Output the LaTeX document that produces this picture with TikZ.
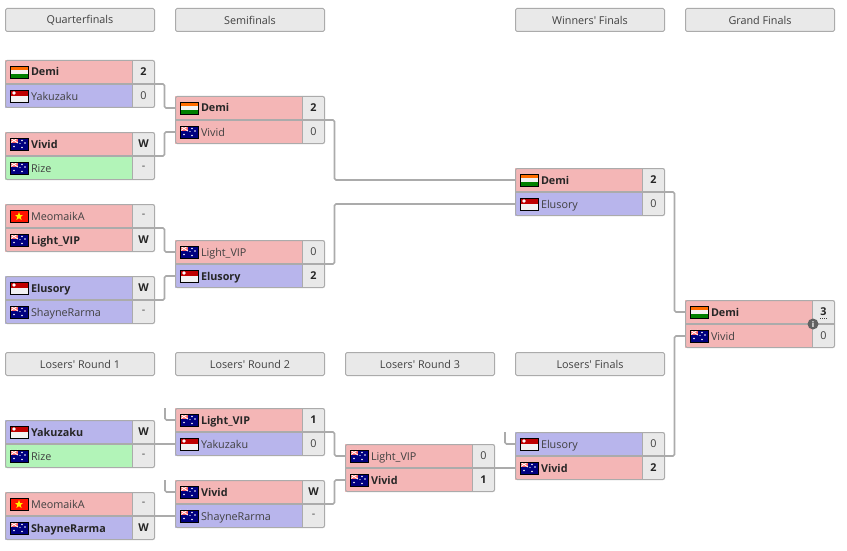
\documentclass[tikz,border=0pt]{standalone}
\usepackage{fontspec}
\setmainfont{Open Sans}
\newfontfamily\plainf{Open Sans}
\usetikzlibrary{calc}
\definecolor{rd}{HTML}{F4B6B6}
\definecolor{bl}{HTML}{B8B5EC}
\definecolor{gr}{HTML}{B2F4B8}
\definecolor{sc}{HTML}{E9E9E9}
\definecolor{bd}{HTML}{ABABAB}
\definecolor{tx}{HTML}{404040}
\tikzset{
  header/.style={draw=bd,fill=sc,line width=1pt,rounded corners=1.5pt,minimum width=149pt,minimum height=23pt,anchor=north west,inner sep=0,outer sep=0,font=\fontsize{10.8}{12}\selectfont,text=tx},
  cell/.style={draw=none,minimum width=127pt,minimum height=24pt,anchor=north west,inner sep=0,outer sep=0},
  scorecell/.style={draw=none,fill=sc,minimum width=23pt,minimum height=24pt,anchor=center,inner sep=0,outer sep=0},
  frameb/.style={draw=bd,line width=1pt,rounded corners=1.5pt,minimum width=149pt,minimum height=47pt,anchor=north west,inner sep=0,outer sep=0},
  conn/.style={draw=bd,line width=1.6pt,rounded corners=1.5pt},
  sep/.style={draw=bd,line width=1pt},
  lab/.style={anchor=base west,inner sep=0,outer sep=0,text=tx,font=\fontsize{10.8}{12}\selectfont},
  blab/.style={lab,text=black!85,font=\fontsize{10.8}{12}\selectfont\bfseries},
  flagline/.style={draw=black,line width=0.8pt}
}
\newcommand\flagIN[2]{\begin{scope}[shift={(#1,#2)}]
 \fill[orange!85!red] (0,0) rectangle (18,4);\fill[white!95!black] (0,4) rectangle (18,8);\fill[green!50!black] (0,8) rectangle (18,12);
 \draw[flagline] (0,0) rectangle (18,12);\end{scope}}
\newcommand\flagSG[2]{\begin{scope}[shift={(#1,#2)}]
 \fill[red!75!black] (0,0) rectangle (18,6);\fill[white!95!black] (0,6) rectangle (18,12);\fill[white] (4,3) circle (1.8);
 \draw[flagline] (0,0) rectangle (18,12);\end{scope}}
\newcommand\flagAU[2]{\begin{scope}[shift={(#1,#2)}]
 \fill[blue!50!black] (0,0) rectangle (18,12);\fill[red!60!white] (0,0) rectangle (8,5);\draw[white,line width=.8pt] (0,0)--(8,5) (8,0)--(0,5);
 \fill[white] (4,8.5) circle (.9) (12,2.5) circle (.8) (15,5) circle (.8) (12,9.5) circle (.8) (10,5.5) circle (.6);
 \draw[flagline] (0,0) rectangle (18,12);\end{scope}}
\newcommand\flagVN[2]{\begin{scope}[shift={(#1,#2)}]
 \fill[red!85!orange] (0,0) rectangle (18,12);
 \fill[yellow] (9,2)--(10.1,5)--(13,5)--(10.7,7)--(11.6,10)--(9,8.2)--(6.4,10)--(7.3,7)--(5,5)--(7.9,5)--cycle;
 \draw[flagline] (0,0) rectangle (18,12);\end{scope}}
% id, x, y, flag, label style, name, fill, score
\newcommand\team[8]{%
 \node[cell,fill=#7] (#1) at (#2,#3) {};
 \node[#5,scorecell] (#1s) at (#2+138.5,#3+12) {#8};
 \draw[sep] (#1s.north west) -- (#1s.south west);
 \csname flag#4\endcsname{#2+5}{#3+6}
 \node[#5] (#1n) at (#2+26,#3+16) {#6};}
\newcommand\frameb[3]{\node[frameb] (#1) at (#2,#3) {};}
\newcommand\hdr[4]{\node[header] (#1) at (#2,#3) {#4};}
\newcommand\apos{{\plainf\symbol{39}}}
\begin{document}
\begin{tikzpicture}[x=1pt,y=-1pt]
\useasboundingbox (0,0) rectangle (847,551);
% headers
\hdr{h1}{5.5}{8.5}{Quarterfinals}
\hdr{h2}{175.5}{8.5}{Semifinals}
\hdr{h3}{515.5}{8.5}{Winners\apos{} Finals}
\hdr{h4}{685.5}{8.5}{Grand Finals}
\hdr{h5}{5.5}{352.5}{Losers\apos{} Round 1}
\hdr{h6}{175.5}{352.5}{Losers\apos{} Round 2}
\hdr{h7}{345.5}{352.5}{Losers\apos{} Round 3}
\hdr{h8}{515.5}{352.5}{Losers\apos{} Finals}
% quarterfinals
\team{aa}{5}{60}{IN}{blab}{Demi}{rd}{2}
\team{ab}{5}{84}{SG}{lab}{Yakuzaku}{bl}{0}
\frameb{a}{5.5}{60.5}
\team{ba}{5}{132}{AU}{blab}{Vivid}{rd}{W}
\team{bb}{5}{156}{AU}{lab}{Rize}{gr}{-}
\frameb{b}{5.5}{132.5}
\team{ca}{5}{204}{VN}{lab}{MeomaikA}{rd}{-}
\team{cb}{5}{228}{AU}{blab}{Light\_VIP}{rd}{W}
\frameb{c}{5.5}{204.5}
\team{da}{5}{276}{SG}{blab}{Elusory}{bl}{W}
\team{db}{5}{300}{AU}{lab}{ShayneRarma}{bl}{-}
\frameb{d}{5.5}{276.5}
% semifinals
\team{ea}{175}{96}{IN}{blab}{Demi}{rd}{2}
\team{eb}{175}{120}{AU}{lab}{Vivid}{rd}{0}
\frameb{e}{175.5}{96.5}
\team{fa}{175}{240}{AU}{lab}{Light\_VIP}{rd}{0}
\team{fb}{175}{264}{SG}{blab}{Elusory}{bl}{2}
\frameb{f}{175.5}{240.5}
% winners final
\team{ga}{515}{168}{IN}{blab}{Demi}{rd}{2}
\team{gb}{515}{192}{SG}{lab}{Elusory}{bl}{0}
\frameb{g}{515.5}{168.5}
% grand final
\team{ha}{685}{300}{IN}{blab}{Demi}{rd}{3}
\team{hb}{685}{324}{AU}{lab}{Vivid}{rd}{0}
\draw[tx,line width=.7pt,dash pattern=on 1pt off 1pt] (820,318.5) -- (827,318.5);
\frameb{h}{685.5}{300.5}
% losers round 1
\team{ia}{5}{420}{SG}{blab}{Yakuzaku}{bl}{W}
\team{ib}{5}{444}{AU}{lab}{Rize}{gr}{-}
\frameb{i}{5.5}{420.5}
\team{ja}{5}{492}{VN}{lab}{MeomaikA}{rd}{-}
\team{jb}{5}{516}{AU}{blab}{ShayneRarma}{bl}{W}
\frameb{j}{5.5}{492.5}
% losers round 2
\team{ka}{175}{408}{AU}{blab}{Light\_VIP}{rd}{1}
\team{kb}{175}{432}{SG}{lab}{Yakuzaku}{bl}{0}
\frameb{k}{175.5}{408.5}
\team{la}{175}{480}{AU}{blab}{Vivid}{rd}{W}
\team{lb}{175}{504}{AU}{lab}{ShayneRarma}{bl}{-}
\frameb{l}{175.5}{480.5}
% losers round 3
\team{ma}{345}{444}{AU}{lab}{Light\_VIP}{rd}{0}
\team{mb}{345}{468}{AU}{blab}{Vivid}{rd}{1}
\frameb{m}{345.5}{444.5}
% losers final
\team{na}{515}{432}{SG}{lab}{Elusory}{bl}{0}
\team{nb}{515}{456}{AU}{blab}{Vivid}{rd}{2}
\frameb{n}{515.5}{432.5}
% dividers
\foreach \q in {a,b,c,d,e,f,g,h,i,j,k,l,m,n} {\draw[conn] (\q.west) -- (\q.east);}
% free ends of the stubs
\coordinate (s1) at (165,408);
\coordinate (s2) at (165,480);
\coordinate (s3) at (505,432);
% connectors
\draw[conn] (a.east) -- ++(10,0) |- (ea.west);
\draw[conn] (b.east) -- ++(10,0) |- (eb.west);
\draw[conn] (c.east) -- ++(10,0) |- (fa.west);
\draw[conn] (d.east) -- ++(10,0) |- (fb.west);
\draw[conn] (e.east) -- ++(10,0) |- (ga.west);
\draw[conn] (f.east) -- ++(10,0) |- (gb.west);
\draw[conn] (g.east) -- ++(10,0) |- (ha.west);
\draw[conn] (n.east) -- ++(10,0) |- (hb.west);
\draw[conn] (s1) |- (ka.west);
\draw[conn] (s2) |- (la.west);
\draw[conn] (i.east) -- (kb.west);
\draw[conn] (j.east) -- (lb.west);
\draw[conn] (k.east) -- ++(10,0) |- (ma.west);
\draw[conn] (l.east) -- ++(10,0) |- (mb.west);
\draw[conn] (s3) |- (na.west);
\draw[conn] (m.east) -- (nb.west);
% info icon
\node[circle,fill=black!62,minimum size=11pt,inner sep=0,outer sep=0,text=white,font=\fontsize{8}{8}\selectfont\bfseries] (info) at (813,324) {i};
\end{tikzpicture}
\end{document}
